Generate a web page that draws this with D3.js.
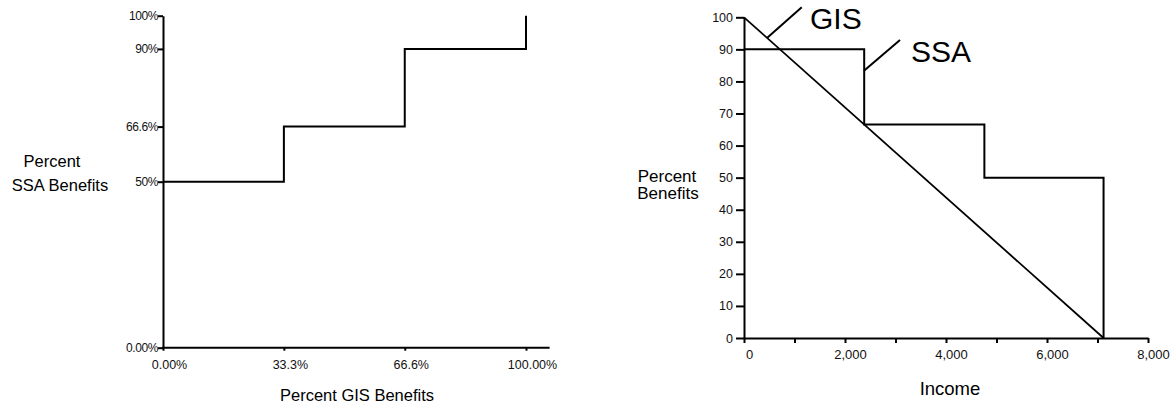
<!DOCTYPE html>
<html>
<head>
<meta charset="utf-8">
<script src="https://cdn.jsdelivr.net/npm/d3@7"></script>
<style>
  html, body { margin: 0; padding: 0; background: #fff; }
  svg { display: block; font-family: "Liberation Sans", Arial, sans-serif; }
</style>
</head>
<body>
<svg id="chart" width="1174" height="405"></svg>
<script>
// ---------- Left chart data ----------
const leftXTicks = [0, 33.3, 66.6, 100];
const leftXTickLabels = ["0.00%", "33.3%", "66.6%", "100.00%"];
const leftYTicks = [0, 50, 66.6, 90, 100];
const leftYTickLabels = ["0.00%", "50%", "66.6%", "90%", "100%"];
const gisPct = [0, 33.3, 66.6, 100];     // Percent GIS benefits
const ssaPct = [50, 66.6, 90, 100];      // Percent SSA benefits
const leftXAxisEnd = 106.5;

// ---------- Right chart data ----------
const incomeTicks = [0, 1000, 2000, 3000, 4000, 5000, 6000, 7000, 8000];
const incomeTickLabels = ["0", "", "2,000", "", "4,000", "", "6,000", "", "8,000"];
const benefitTicks = [0, 10, 20, 30, 40, 50, 60, 70, 80, 90, 100];
const gisIncome = [0, 7120];
const gisBenefit = [100, 0];
const ssaIncome = [0, 2380, 4760, 7120, 7120];
const ssaBenefit = [90, 66.6, 50, 0, 0];
const labelNames = ["GIS", "SSA"];
const labelPointerFrom = [[461, 93.6], [2376, 83.3]];
const labelPointerTo = [[1143, 103.1], [3089, 92.9]];
const labelTextAt = [[1307, 96.4], [3307, 86.1]];

const svg = d3.select("#chart");

// ================= LEFT CHART =================
const lx = d3.scaleLinear().domain([0, 100]).range([163, 526]);
const ly = d3.scaleLinear().domain([0, 100]).range([347.7, 15.7]);
const L = svg.append("g");

const lyAxis = L.append("g").attr("transform", `translate(${lx(0)},0)`)
  .call(d3.axisLeft(ly).tickValues(leftYTicks).tickSize(5).tickSizeOuter(0)
    .tickPadding(0).tickFormat((d, i) => leftYTickLabels[i]));
lyAxis.select(".domain").attr("stroke", "#000").attr("stroke-width", 2);
lyAxis.selectAll(".tick line").attr("stroke", "#000").attr("stroke-width", 2);
lyAxis.selectAll(".tick text").attr("font-size", 12).attr("fill", "#111")
  .attr("font-family", "Liberation Sans, Arial, sans-serif").attr("letter-spacing", -0.4);

const lxAxis = L.append("g").attr("transform", `translate(0,${ly(0)})`)
  .call(d3.axisBottom(lx).tickValues(leftXTicks).tickSize(3).tickSizeOuter(0)
    .tickPadding(9).tickFormat((d, i) => leftXTickLabels[i]));
lxAxis.select(".domain").remove();
lxAxis.selectAll(".tick line").attr("stroke", "#000").attr("stroke-width", 2);
lxAxis.selectAll(".tick text").attr("font-size", 12.5).attr("fill", "#111").attr("dx", 6)
  .attr("font-family", "Liberation Sans, Arial, sans-serif");
L.append("line").attr("x1", lx(0) - 1).attr("x2", lx(leftXAxisEnd))
  .attr("y1", ly(0)).attr("y2", ly(0)).attr("stroke", "#000").attr("stroke-width", 2);

// step line
const leftPts = gisPct.map((g, i) => [g, ssaPct[i]]);
L.append("path").datum(leftPts)
  .attr("d", d3.line().x(d => lx(d[0])).y(d => ly(d[1])).curve(d3.curveStepAfter))
  .attr("fill", "none").attr("stroke", "#000").attr("stroke-width", 2);

// axis titles
L.append("text").attr("x", 357).attr("y", 401).attr("text-anchor", "middle")
  .attr("font-size", 16.5).text("Percent GIS Benefits");
L.append("text").attr("x", 52).attr("y", 167).attr("text-anchor", "middle")
  .attr("font-size", 16.5).text("Percent");
L.append("text").attr("x", 60).attr("y", 190.5).attr("text-anchor", "middle")
  .attr("font-size", 16.5).text("SSA Benefits");

// ================= RIGHT CHART =================
const rx = d3.scaleLinear().domain([0, 8000]).range([744, 1148]);
const ry = d3.scaleLinear().domain([0, 100]).range([338, 17.3]);
const R = svg.append("g");

const ryAxis = R.append("g").attr("transform", `translate(${rx(0)},0)`)
  .call(d3.axisLeft(ry).tickValues(benefitTicks).tickSize(8).tickSizeOuter(0)
    .tickPadding(3).tickFormat(d3.format("d")));
ryAxis.select(".domain").attr("stroke", "#000").attr("stroke-width", 2);
ryAxis.selectAll(".tick line").attr("stroke", "#000").attr("stroke-width", 2);
ryAxis.selectAll(".tick text").attr("font-size", 12.5).attr("fill", "#111")
  .attr("font-family", "Liberation Sans, Arial, sans-serif");

const rxAxis = R.append("g").attr("transform", `translate(0,${ry(0)})`)
  .call(d3.axisBottom(rx).tickValues(incomeTicks).tickSize(5).tickSizeOuter(0)
    .tickPadding(7).tickFormat((d, i) => incomeTickLabels[i]));
rxAxis.select(".domain").attr("stroke", "#000").attr("stroke-width", 2);
rxAxis.selectAll(".tick line").attr("stroke", "#000").attr("stroke-width", 2);
rxAxis.selectAll(".tick text").attr("font-size", 13).attr("fill", "#111").attr("dx", 5)
  .attr("font-family", "Liberation Sans, Arial, sans-serif");

// GIS diagonal
R.append("path").datum(gisIncome.map((v, i) => [v, gisBenefit[i]]))
  .attr("d", d3.line().x(d => rx(d[0])).y(d => ry(d[1])))
  .attr("fill", "none").attr("stroke", "#000").attr("stroke-width", 1.8);

// SSA step
R.append("path").datum(ssaIncome.map((v, i) => [v, ssaBenefit[i]]))
  .attr("d", d3.line().x(d => rx(d[0])).y(d => ry(d[1])).curve(d3.curveStepAfter))
  .attr("fill", "none").attr("stroke", "#000").attr("stroke-width", 2);

// annotations
labelNames.forEach((name, i) => {
  R.append("line")
    .attr("x1", rx(labelPointerFrom[i][0])).attr("y1", ry(labelPointerFrom[i][1]))
    .attr("x2", rx(labelPointerTo[i][0])).attr("y2", ry(labelPointerTo[i][1]))
    .attr("stroke", "#000").attr("stroke-width", 2);
  R.append("text").attr("x", rx(labelTextAt[i][0])).attr("y", ry(labelTextAt[i][1]))
    .attr("font-size", 30).text(name);
});

// titles
R.append("text").attr("x", 950).attr("y", 395).attr("text-anchor", "middle")
  .attr("font-size", 18.5).text("Income");
R.append("text").attr("x", 667).attr("y", 182).attr("text-anchor", "middle")
  .attr("font-size", 17).text("Percent");
R.append("text").attr("x", 668).attr("y", 199).attr("text-anchor", "middle")
  .attr("font-size", 17).text("Benefits");
</script>
</body>
</html>
